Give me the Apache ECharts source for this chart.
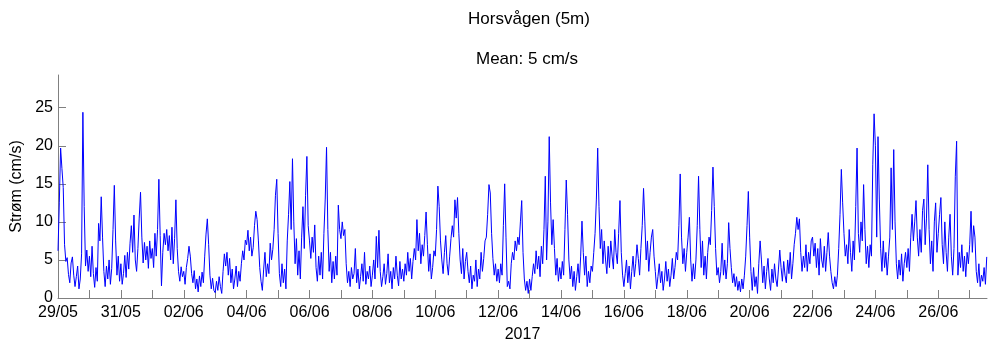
<!DOCTYPE html>
<html>
<head>
<meta charset="utf-8">
<script src="https://cdn.jsdelivr.net/npm/echarts@6/dist/echarts.min.js"></script>
<style>
html,body{margin:0;padding:0;background:#fff;}
#c{width:988px;height:347px;}
</style>
</head>
<body>
<div id="c"></div>
<script>
// Hourly current speed (cm/s), starting 29/05/2017 00:00, one array per day
const d0529 = [6.2,12.5,19.7,17.0,14.5,7.0,4.8,5.3,3.1,2.0,4.6,5.4,3.0,1.5,2.8,4.2,1.2,2.5,5.8,24.4,12.0,4.2,6.3,3.5];
const d0530 = [5.5,2.8,6.8,3.2,1.4,4.0,2.2,9.8,7.5,13.3,8.0,3.5,1.5,4.2,2.5,5.0,1.8,3.9,9.0,14.8,7.5,3.0,5.5,2.2];
const d0531 = [4.5,1.8,3.2,5.6,2.7,6.0,3.8,7.2,9.5,6.0,10.9,5.0,3.5,6.5,10.5,13.9,8.0,4.6,7.3,5.0,6.8,3.9,7.5,5.2];
const d0601 = [6.5,4.0,8.5,5.5,9.0,15.6,8.2,1.6,6.0,8.5,7.0,9.0,6.2,8.2,5.0,9.3,4.5,7.8,12.9,6.5,3.5,2.2,4.1,2.8];
const d0602 = [3.5,1.8,4.0,5.2,6.8,5.5,3.2,2.0,3.6,1.2,2.5,0.8,2.9,1.5,3.4,2.0,5.5,8.4,10.4,7.0,3.0,1.2,2.6,1.0];
const d0603 = [0.7,2.2,1.0,2.8,1.5,0.6,3.5,5.8,4.2,6.0,3.0,5.2,2.0,3.8,1.2,2.5,4.2,1.5,3.5,2.2,4.5,6.2,5.0,7.6];
const d0604 = [7.0,8.9,6.2,8.0,5.5,6.6,9.5,11.4,10.3,7.5,4.0,2.2,1.0,3.8,6.0,2.8,4.5,3.2,7.2,5.0,6.4,9.0,13.5,15.6];
const d0605 = [8.5,3.2,1.5,4.5,2.0,3.8,1.2,7.5,11.0,15.3,9.0,18.3,10.0,4.5,7.8,3.0,6.2,2.5,8.0,12.0,6.5,13.5,18.6,9.5];
const d0606 = [7.5,5.2,8.0,6.0,9.6,4.0,2.2,5.5,3.0,6.0,2.5,8.5,13.0,19.8,9.0,3.5,6.0,2.0,4.8,2.5,5.5,3.0,12.2,9.0];
const d0607 = [7.8,10.0,8.2,9.0,4.5,2.0,3.5,1.5,4.0,2.5,3.2,6.5,2.0,3.8,1.2,2.8,4.5,2.2,6.0,1.8,3.5,2.5,4.2,1.5];
const d0608 = [3.0,5.0,2.5,8.1,4.0,8.9,3.5,1.5,2.8,4.5,1.8,3.2,5.8,2.0,3.5,1.2,4.0,2.5,5.5,3.0,1.6,4.8,2.5,3.8];
const d0609 = [2.2,4.5,3.0,6.0,3.5,5.2,2.5,4.8,6.5,5.0,10.3,6.2,8.5,4.5,7.0,5.5,8.2,11.3,7.0,3.5,5.8,2.5,4.0,6.2];
const d0610 = [5.5,9.0,14.7,12.0,7.5,5.0,3.2,6.0,8.2,4.5,3.0,5.5,7.8,9.5,8.0,12.9,10.5,13.2,8.5,5.0,3.2,6.5,2.5,4.8];
const d0611 = [6.0,3.5,2.0,4.2,1.2,3.0,2.2,5.0,1.5,3.8,2.5,6.0,3.5,5.2,7.5,8.0,11.0,14.9,13.8,8.5,5.2,3.0,4.5,2.2];
const d0612 = [3.8,2.0,4.5,3.0,9.5,15.0,8.0,1.5,2.2,1.2,4.5,6.0,5.0,7.5,6.2,8.0,7.0,10.0,12.8,6.0,2.5,1.0,2.2,0.6];
const d0613 = [2.5,1.0,2.8,4.5,3.2,6.2,3.8,5.5,2.8,6.8,4.5,9.0,16.0,5.0,10.0,21.2,12.5,7.0,10.3,6.5,3.0,5.2,2.2,4.0];
const d0614 = [2.5,4.8,3.0,9.0,15.5,11.0,5.0,2.5,4.2,1.5,3.5,1.0,2.8,4.5,2.0,5.5,10.1,6.0,3.0,5.5,1.5,3.5,2.0,4.2];
const d0615 = [3.5,6.0,8.5,13.0,19.7,12.0,6.5,9.0,4.5,7.5,5.0,3.2,6.8,4.0,7.5,5.5,3.8,9.0,6.0,4.5,8.5,12.8,6.0,3.0];
const d0616 = [1.5,3.2,5.0,2.0,4.2,1.2,3.5,5.5,2.8,4.5,7.0,5.2,3.0,6.5,9.5,14.4,10.0,5.0,7.5,3.5,6.0,8.0,9.0,5.5];
const d0617 = [3.5,1.2,2.8,4.5,2.0,3.5,1.0,2.5,4.8,2.2,3.8,1.5,3.0,5.2,2.5,4.0,6.0,5.0,9.5,16.3,8.0,4.5,6.5,3.5];
const d0618 = [6.0,8.0,10.6,5.0,2.2,4.5,2.5,5.0,9.5,16.0,9.0,4.0,7.5,3.0,5.5,2.5,6.0,8.0,7.0,11.5,17.2,12.0,6.5,3.0];
const d0619 = [4.0,2.0,3.5,7.2,3.0,5.0,2.5,4.5,9.9,6.5,4.0,2.0,3.2,1.5,2.8,1.0,2.2,0.8,2.5,1.2,3.0,5.5,9.5,14.0];
const d0620 = [8.0,3.5,1.0,4.0,1.5,2.8,0.6,4.5,7.5,5.0,2.0,4.2,1.2,3.5,5.2,2.5,1.0,3.8,2.0,4.5,2.5,1.5,3.8,6.3];
const d0621 = [4.0,2.2,4.8,3.0,2.0,5.0,3.2,6.0,2.5,4.5,7.0,8.5,10.6,9.0,10.4,6.0,3.5,5.5,4.0,7.0,3.5,6.0,4.5,7.5];
const d0622 = [8.0,5.5,7.2,4.0,6.5,3.0,7.8,5.0,4.0,6.8,3.5,6.0,8.6,5.5,3.5,2.0,1.2,2.8,1.5,3.0,6.5,11.0,16.9,12.5];
const d0623 = [8.5,5.5,7.0,4.5,9.0,6.0,3.5,7.5,5.0,12.0,19.7,8.5,6.0,10.0,7.5,14.9,9.0,4.5,6.8,4.0,7.0,5.5,17.5,24.2];
const d0624 = [20.0,8.0,21.2,13.0,6.5,3.5,7.5,4.0,6.0,3.0,5.5,8.0,17.1,9.0,19.5,10.0,4.5,2.5,5.0,3.0,5.8,2.2,4.5,6.0];
const d0625 = [4.0,6.5,3.5,8.0,11.0,7.5,10.0,12.8,8.0,5.5,9.0,6.0,11.5,13.0,7.0,10.5,17.5,9.0,4.5,7.5,3.5,10.0,12.5,6.0];
const d0626 = [8.5,11.0,13.2,7.0,4.5,10.0,6.0,3.5,8.0,11.0,5.5,3.0,6.5,16.0,20.6,3.0,6.0,4.0,7.0,3.5,5.5,2.8,6.0,4.5];
const d0627 = [7.0,11.4,6.0,9.5,8.0,3.5,2.0,4.5,1.5,3.0,2.2,4.0,1.8,5.4];

const days = [d0529,d0530,d0531,d0601,d0602,d0603,d0604,d0605,d0606,d0607,d0608,d0609,d0610,d0611,d0612,d0613,d0614,d0615,d0616,d0617,d0618,d0619,d0620,d0621,d0622,d0623,d0624,d0625,d0626,d0627];

// X tick labels (every second day from 29/05) and tick positions (days since 29/05)
const tickLabels = ['29/05','31/05','02/06','04/06','06/06','08/06','10/06','12/06','14/06','16/06','18/06','20/06','22/06','24/06','26/06'];
const labelDays = [0,2,4,6,8,10,12,14,16,18,20,22,24,26,28];
const tickDays = [0,1,2,3,4,5,6,7,8,9,10,11,12,13,14,15,16,17,18,19,20,21,22,23,24,25,26,27,28,29];
const yTicks = [0,5,10,15,20,25];

const series = [];
days.forEach((arr, di) => arr.forEach((v, h) => series.push([di + h / 24, v])));

const chart = echarts.init(document.getElementById('c'), null, {renderer: 'canvas'});
const font = 'Liberation Sans, Arial, sans-serif';
chart.setOption({
  animation: false,
  backgroundColor: '#ffffff',
  title: [
    {text: 'Horsvågen (5m)', left: 524, top: 6, textAlign: 'center',
     textStyle: {fontFamily: font, fontSize: 17, fontWeight: 'normal', color: '#000'}},
    {text: 'Mean: 5 cm/s', left: 522, top: 46, textAlign: 'center',
     textStyle: {fontFamily: font, fontSize: 17, fontWeight: 'normal', color: '#000'}}
  ],
  grid: {left: 58, right: 1, top: 75, bottom: 49, containLabel: false, outerBoundsMode: 'none'},
  xAxis: {
    type: 'value', min: 0, max: 29.55,
    name: '2017', nameLocation: 'middle', nameGap: 29,
    nameTextStyle: {fontFamily: font, fontSize: 16, color: '#000'},
    axisLine: {show: true, lineStyle: {color: '#808080', width: 1}},
    axisTick: {show: true, inside: true, length: 8, customValues: tickDays, lineStyle: {color: '#808080'}},
    axisLabel: {customValues: labelDays, margin: 7, fontFamily: font, fontSize: 16, color: '#000',
      formatter: v => tickLabels[labelDays.indexOf(Math.round(v))] || ''},
    splitLine: {show: false}
  },
  yAxis: {
    type: 'value', min: 0, max: 29.3,
    name: 'Strøm (cm/s)', nameLocation: 'middle', nameGap: 33, nameRotate: 90,
    nameTextStyle: {fontFamily: font, fontSize: 16, color: '#000'},
    axisLine: {show: true, lineStyle: {color: '#808080', width: 1}},
    axisTick: {show: true, inside: true, length: 8, customValues: yTicks, lineStyle: {color: '#808080'}},
    axisLabel: {customValues: yTicks, margin: 5, fontFamily: font, fontSize: 16, color: '#000'},
    splitLine: {show: false}
  },
  series: [{
    type: 'line', data: series, showSymbol: false, symbol: 'none',
    lineStyle: {color: '#0000ff', width: 1}, itemStyle: {color: '#0000ff'}
  }]
});
</script>
</body>
</html>
